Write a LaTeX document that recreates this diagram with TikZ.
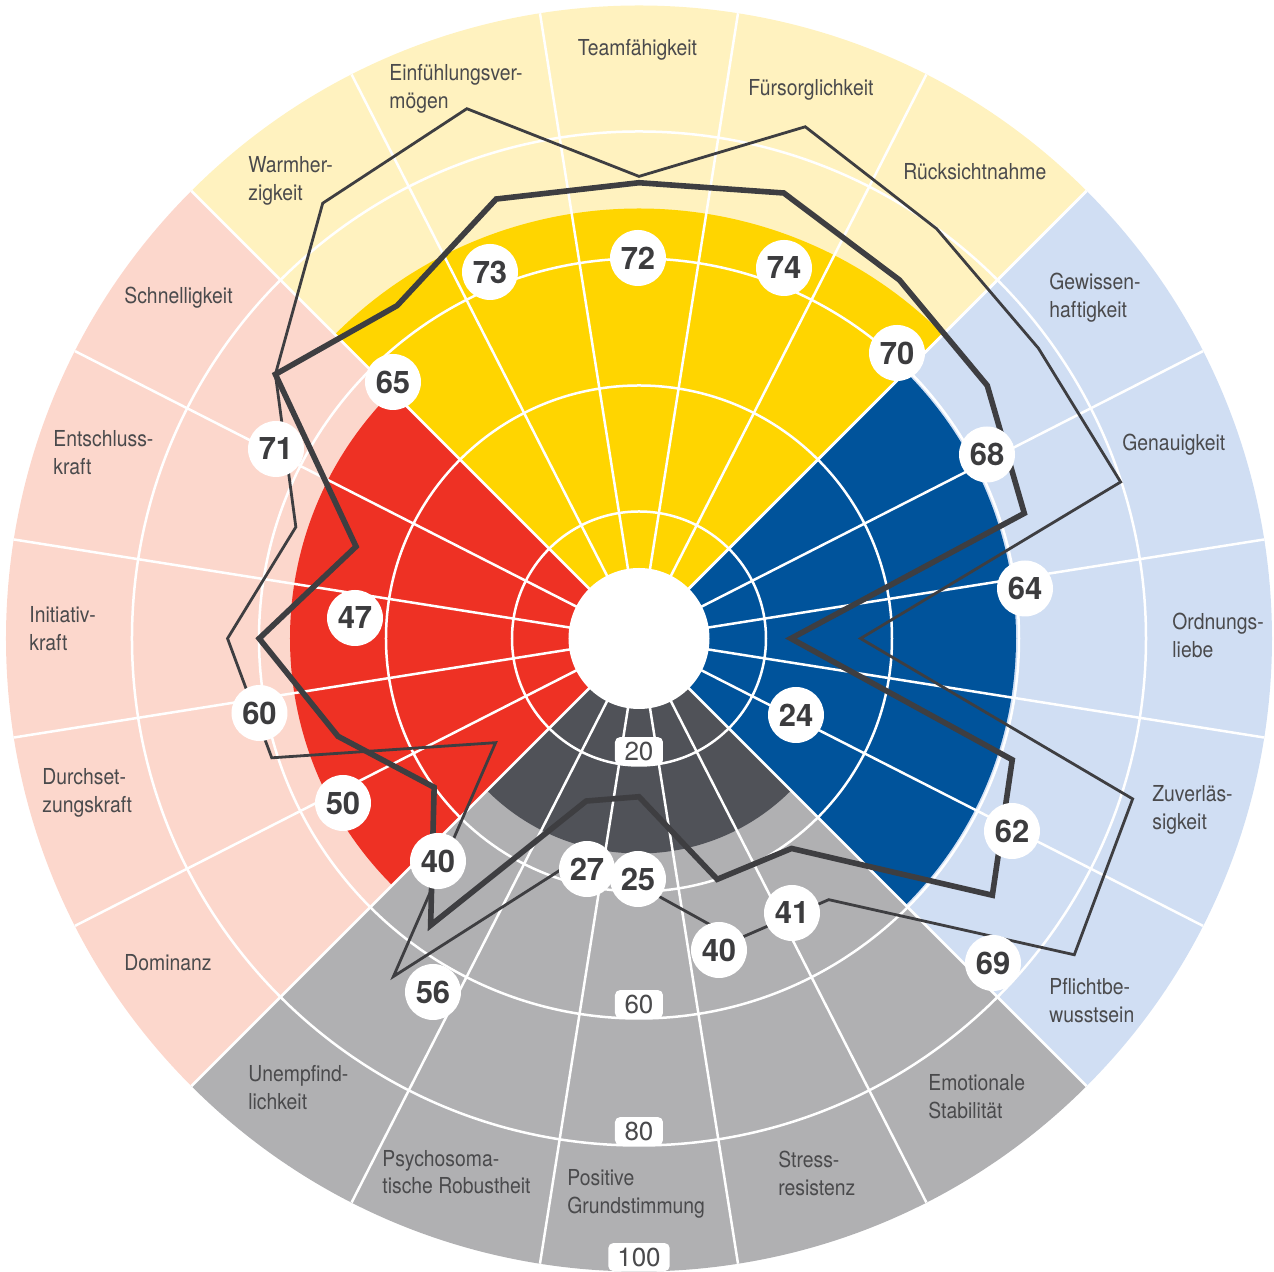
\documentclass[tikz,border=0pt]{standalone}
\usepackage{fontspec}
\setmainfont{TeX Gyre Heros}
\newfontfamily\labfont[FakeStretch=0.88]{TeX Gyre Heros}
\definecolor{lyellow}{HTML}{FFF2BF}
\definecolor{syellow}{HTML}{FFD500}
\definecolor{lpink}{HTML}{FCD7CC}
\definecolor{sred}{HTML}{EE3124}
\definecolor{lblue}{HTML}{D0DEF3}
\definecolor{sblue}{HTML}{00539B}
\definecolor{mgray}{HTML}{B0B0B2}
\definecolor{dgray}{HTML}{505258}
\definecolor{labgray}{HTML}{4A4A4C}
\definecolor{linegray}{HTML}{3E3E41}
\definecolor{badgetext}{HTML}{3C3C3E}
\begin{document}
\begin{tikzpicture}[x=0.5pt,y=0.5pt,
  gridline/.style={white, line width=1.25pt},
  catlabel/.style={anchor=base west, align=left, inner sep=0pt, text=labgray,
    font=\labfont\fontsize{11pt}{13.8pt}\selectfont},
  badge/.style={circle, fill=white, minimum size=28pt, inner sep=0pt, text=badgetext,
    font=\bfseries\fontsize{15.5pt}{15.5pt}\selectfont},
  ringlab/.style={fill=white, rounded corners=2.5pt, anchor=south, minimum height=14pt,
    minimum width=24pt, inner xsep=4.5pt, inner ysep=0pt, text=labgray,
    font=\fontsize{13pt}{13pt}\selectfont},
  thinline/.style={draw=linegray, line width=1.4pt},
  thickline/.style={draw=linegray, line width=2.8pt}]
\def\s{6.33}
\def\R{633}
\def\dl{27.6}
\useasboundingbox (-639,-633.5) rectangle (635,638.5);
% light outer sectors
\fill[lyellow] (0,0) -- (45:\R) arc[start angle=45, end angle=135, radius=\R] -- cycle;
\fill[lpink] (0,0) -- (135:\R) arc[start angle=135, end angle=225, radius=\R] -- cycle;
\fill[mgray] (0,0) -- (225:\R) arc[start angle=225, end angle=315, radius=\R] -- cycle;
\fill[lblue] (0,0) -- (315:\R) arc[start angle=315, end angle=405, radius=\R] -- cycle;
% saturated inner sectors
\fill[syellow] (0,0) -- (45:430) arc[start angle=45, end angle=135, radius=430] -- cycle;
\fill[sred] (0,0) -- (135:349) arc[start angle=135, end angle=225, radius=349] -- cycle;
\fill[dgray] (0,0) -- (225:215) arc[start angle=225, end angle=315, radius=215] -- cycle;
\fill[sblue] (0,0) -- (315:377) arc[start angle=315, end angle=405, radius=377] -- cycle;
% rings
\foreach \r in {127,253,380,507} \draw[gridline] (0,0) circle[radius=\r];
% radial lines
\foreach \a in {45,63,...,405} \draw[gridline] (0,0) -- (\a:\R);
% centre disk
\fill[white] (0,0) circle[radius=70.5];
% category labels (two-line labels: anchor on the second baseline)
\node[catlabel, anchor=base] (lTeam) at (-1.5,582.5) {Teamfähigkeit};
\node[catlabel] (lEinf) at (-250,557.5-\dl) {Einfühlungsver-\\mögen};
\node[catlabel] (lFuer) at (109,542.5) {Fürsorglichkeit};
\node[catlabel] (lWarm) at (-391,465.5-\dl) {Warmher-\\zigkeit};
\node[catlabel] (lRueck) at (264,458.5) {Rücksichtnahme};
\node[catlabel] (lSchn) at (-515,334.5) {Schnelligkeit};
\node[catlabel] (lGew) at (410,348.5-\dl) {Gewissen-\\haftigkeit};
\node[catlabel] (lEnt) at (-586,191.5-\dl) {Entschluss-\\kraft};
\node[catlabel] (lGen) at (483,187.5) {Genauigkeit};
\node[catlabel] (lIni) at (-610,15.5-\dl) {Initiativ-\\kraft};
\node[catlabel] (lOrd) at (533,8.5-\dl) {Ordnungs-\\liebe};
\node[catlabel] (lDurch) at (-597,-146.5-\dl) {Durchset-\\zungskraft};
\node[catlabel] (lZuv) at (513,-163.5-\dl) {Zuverläs-\\sigkeit};
\node[catlabel] (lDom) at (-515,-332.5) {Dominanz};
\node[catlabel] (lPfl) at (410,-356.5-\dl) {Pflichtbe-\\wusstsein};
\node[catlabel] (lUnem) at (-391,-443.5-\dl) {Unempfind-\\lichkeit};
\node[catlabel] (lEmo) at (289,-452.5-\dl) {Emotionale\\Stabilität};
\node[catlabel] (lPsy) at (-257,-527.5-\dl) {Psychosoma-\\tische Robustheit};
\node[catlabel] (lStr) at (139,-529.5-\dl) {Stress-\\resistenz};
\node[catlabel] (lPos) at (-72,-547.5-\dl) {Positive\\Grundstimmung};
% ring labels
\node[ringlab] (r20) at (0,-127) {20};
\node[ringlab] (r60) at (0,-380) {60};
\node[ringlab] (r80) at (0,-507) {80};
\node[ringlab] (r100) at (0,-633) {100};
% thin profile
\draw[thinline] ({0}:{35*\s}) -- ({18}:{80*\s}) -- ({36}:{78*\s}) -- ({54}:{80*\s})
  -- ({72}:{85*\s}) -- ({90}:{73*\s}) -- ({108}:{88*\s}) -- ({126}:{85*\s})
  -- ({144}:{71*\s}) -- ({162}:{57*\s}) -- ({180}:{65*\s}) -- ({198}:{61*\s})
  -- ({216}:{28*\s}) -- ({234}:{66*\s}) -- ({252}:{38*\s}) -- ({270}:{39*\s})
  -- ({288}:{50*\s}) -- ({306}:{51*\s}) -- ({324}:{85*\s}) -- ({342}:{82*\s}) -- cycle;
% thick profile
\draw[thickline] ({0}:{24*\s}) -- ({18}:{64*\s}) -- ({36}:{68*\s}) -- ({54}:{70*\s})
  -- ({72}:{74*\s}) -- ({90}:{72*\s}) -- ({108}:{73*\s}) -- ({126}:{65*\s})
  -- ({144}:{71*\s}) -- ({162}:{47*\s}) -- ({180}:{60*\s}) -- ({198}:{50*\s})
  -- ({216}:{40*\s}) -- ({234}:{56*\s}) -- ({252}:{27*\s}) -- ({270}:{25*\s})
  -- ({288}:{40*\s}) -- ({306}:{41*\s}) -- ({324}:{69*\s}) -- ({342}:{62*\s}) -- cycle;
% value badges
\node[badge] (b70) at (258,285.5) {70};
\node[badge] (b68) at (348,184) {68};
\node[badge] (b64) at (386,50) {64};
\node[badge] (b24) at (157,-76.5) {24};
\node[badge] (b62) at (373,-192.5) {62};
\node[badge] (b69) at (354,-324.5) {69};
\node[badge] (b41) at (153,-274.5) {41};
\node[badge] (b40g) at (80,-311.5) {40};
\node[badge] (b27) at (-52,-230.5) {27};
\node[badge] (b25) at (-1,-240.5) {25};
\node[badge] (b56) at (-206,-353.5) {56};
\node[badge] (b40r) at (-201,-222.5) {40};
\node[badge] (b50) at (-296,-164.5) {50};
\node[badge] (b60) at (-379.5,-74.5) {60};
\node[badge] (b47) at (-284,20.5) {47};
\node[badge] (b71) at (-363,189.5) {71};
\node[badge] (b65) at (-246,256.5) {65};
\node[badge] (b73) at (-149,366.5) {73};
\node[badge] (b72) at (-1,380.5) {72};
\node[badge] (b74) at (145,370.5) {74};
\end{tikzpicture}
\end{document}
